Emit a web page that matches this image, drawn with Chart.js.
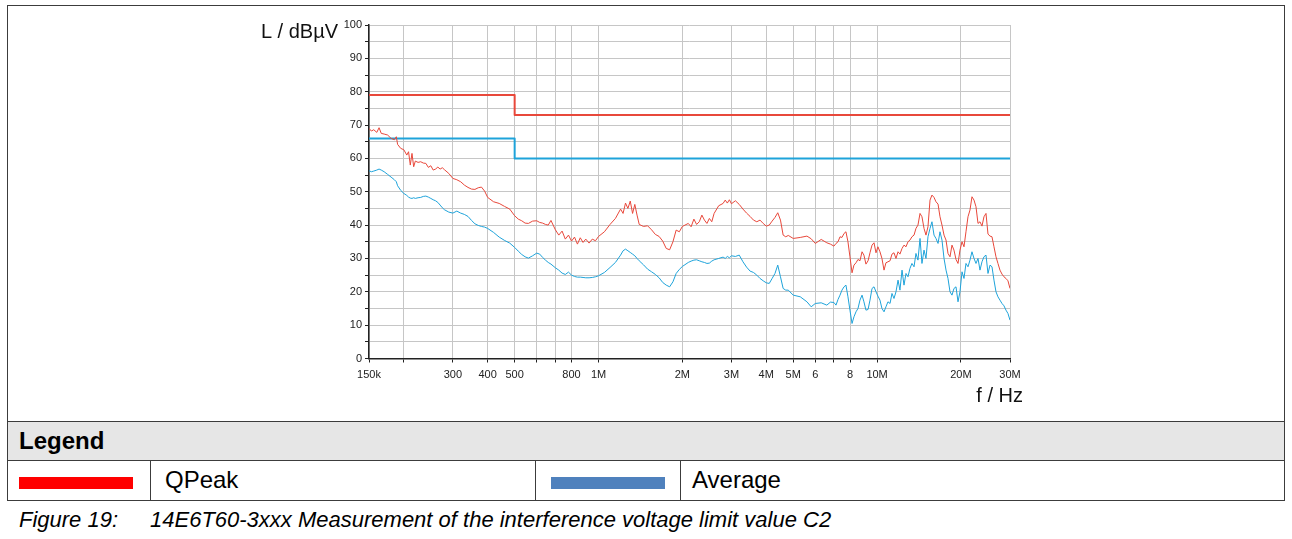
<!DOCTYPE html>
<html>
<head>
<meta charset="utf-8">
<title>Interference voltage C2</title>
<script src="https://cdn.jsdelivr.net/npm/chart.js@4.4.1/dist/chart.umd.min.js"></script>
<style>
  html, body { margin: 0; padding: 0; background: #fff; }
  body { width: 1292px; height: 539px; position: relative; overflow: hidden;
         font-family: "Liberation Sans", Arial, sans-serif; color: #000; }
  #emc { position: absolute; left: 0; top: 0; }
  .hl { position: absolute; height: 1px; background: #3c3c3c; }
  .vl { position: absolute; width: 1px; background: #3c3c3c; }
  .cell { position: absolute; white-space: nowrap; }
  .sw { position: absolute; height: 12px; }
</style>
</head>
<body>
<!-- table frame around chart and legend -->
<div class="hl" style="left:7px;top:5px;width:1278px"></div>
<div class="vl" style="left:7px;top:5px;height:495px"></div>
<div class="vl" style="left:1284px;top:5px;height:495px"></div>
<div style="position:absolute;left:8px;top:422px;width:1276px;height:38px;background:#e6e6e6"></div>
<div class="hl" style="left:7px;top:421px;width:1278px"></div>
<div class="hl" style="left:7px;top:460px;width:1278px"></div>
<div class="hl" style="left:7px;top:500px;width:1278px"></div>
<div class="vl" style="left:150px;top:460px;height:40px"></div>
<div class="vl" style="left:535px;top:460px;height:40px"></div>
<div class="vl" style="left:680px;top:460px;height:40px"></div>

<canvas id="emc" width="1292" height="418"></canvas>

<div class="cell" style="left:19px;top:421px;height:39px;line-height:39px;font-size:24px;font-weight:bold">Legend</div>
<div class="sw" style="left:19px;top:477px;width:114px;background:#ff0000"></div>
<div class="cell" style="left:165px;top:460px;height:40px;line-height:40px;font-size:24px">QPeak</div>
<div class="sw" style="left:551px;top:477px;width:114px;background:#4f81bd"></div>
<div class="cell" style="left:692px;top:460px;height:40px;line-height:40px;font-size:24px">Average</div>
<div class="cell" style="left:19px;top:500px;height:39px;line-height:39px;font-size:22px;font-style:italic">Figure 19:</div>
<div class="cell" style="left:150px;top:500px;height:39px;line-height:39px;font-size:22px;font-style:italic">14E6T60-3xxx Measurement of the interference voltage limit value C2</div>

<script>
// Sweep frequencies in MHz
const freqMHz = [
  0.150,0.153,0.156,0.160,0.163,0.166,0.170,0.175,0.180,0.185,
  0.188,0.190,0.195,0.200,0.205,0.208,0.211,0.214,0.217,0.220,
  0.225,0.230,0.235,0.240,0.245,0.250,0.255,0.260,0.265,0.270,
  0.275,0.280,0.290,0.300,0.310,0.320,0.330,0.340,0.350,0.360,
  0.370,0.380,0.390,0.400,0.420,0.440,0.460,0.480,0.500,
  0.515,0.530,0.545,0.560,0.580,0.600,0.615,0.630,0.645,0.660,
  0.675,0.700,0.720,0.740,0.760,0.780,0.800,0.820,0.840,0.860,
  0.880,0.900,0.925,0.950,0.975,1.00,1.05,1.10,1.15,1.20,
  1.225,1.25,1.275,1.30,1.325,1.35,1.375,1.40,1.45,1.50,
  1.55,1.60,1.65,1.70,1.75,1.80,1.85,1.90,1.95,2.00,
  2.10,2.15,2.20,2.25,2.30,2.35,2.40,2.45,2.50,2.55,
  2.60,2.70,2.80,2.85,2.90,2.95,3.00,3.10,3.20,3.30,
  3.40,3.50,
  3.60,3.70,3.80,3.90,4.00,4.10,4.20,4.30,4.40,4.50,
  4.60,4.70,4.80,5.00,5.30,5.60,5.80,6.00,6.30,6.60,6.80,
  7.00,7.12,7.24,7.36,7.48,7.61,7.73,7.86,7.99,8.13,
  8.26,8.40,8.54,8.68,8.83,8.97,9.12,9.28,9.43,9.59,
  9.75,9.91,10.07,10.24,10.41,10.59,10.76,10.94,11.13,11.31,
  11.50,11.69,11.89,12.08,12.29,12.49,12.70,12.91,13.12,13.34,
  13.57,13.79,14.02,14.26,14.49,14.74,14.98,15.23,15.49,15.74,
  16.01,16.27,16.55,16.82,17.10,17.39,17.68,17.97,18.27,18.57,
  18.88,19.20,19.52,19.84,20.18,20.51,20.85,21.20,21.55,21.91,
  22.28,22.65,23.03,23.41,23.80,24.19,24.60,25.01,25.43,25.85,
  26.28,26.72,27.16,27.61,28.08,28.54,29.02,29.50,30.00
];

// Quasi-peak detector reading, dBµV
const qpeak = [
  69.0,68.2,68.6,67.8,69.2,67.5,67.3,67.0,66.0,65.6,
  66.5,64.2,63.0,62.6,61.0,62.0,58.0,61.5,57.5,59.2,
  58.8,59.0,58.6,58.5,57.3,57.8,56.5,56.8,57.4,56.8,
  57.2,56.6,55.5,54.0,53.6,53.0,52.0,51.3,50.8,50.7,
  51.2,51.4,50.2,48.3,47.0,46.5,45.6,44.8,42.8,
  41.8,41.3,40.6,40.5,41.2,41.3,40.8,40.6,40.2,40.0,
  41.4,38.6,37.0,38.2,35.8,37.0,35.2,36.4,34.3,36.2,
  34.8,35.8,34.6,35.8,35.3,36.6,38.0,40.2,42.0,44.8,
  43.5,46.6,45.0,47.2,43.5,46.2,43.0,40.2,39.6,39.8,
  38.6,37.2,36.6,35.2,33.0,32.6,35.0,38.5,38.0,39.6,
  40.5,39.5,41.8,40.2,41.0,43.0,41.5,40.5,42.0,41.0,
  43.5,45.8,46.5,47.5,46.6,47.6,46.4,47.3,46.2,44.8,
  43.6,42.6,
  41.5,41.0,41.5,40.5,39.7,40.0,41.2,42.3,43.7,41.5,
  37.0,36.5,36.9,36.0,36.3,36.7,35.9,34.5,35.7,34.7,34.3,
  33.7,34.5,35.0,36.5,36.3,37.5,38.0,35.0,30.5,25.7,
  28.0,28.7,29.7,29.3,32.0,31.0,28.3,29.3,31.7,34.0,
  34.7,31.7,33.5,32.0,30.0,26.5,28.7,29.0,29.3,31.3,
  31.7,30.0,32.0,31.3,33.0,34.0,33.5,35.0,35.5,36.5,
  37.0,39.0,40.0,43.5,42.5,39.0,37.0,39.5,47.5,49.0,
  48.3,47.0,46.3,42.5,40.0,37.0,35.5,31.5,30.5,34.0,
  32.5,29.7,28.5,32.5,35.0,33.5,38.0,42.5,44.5,48.5,
  47.5,45.5,40.5,41.0,39.7,42.5,43.5,37.3,36.7,36.5,
  33.5,30.5,28.5,26.5,25.3,24.5,24.0,23.3,21.0
];

// Average detector reading, dBµV
const average = [
  56.3,56.0,56.2,56.5,56.8,56.5,56.0,55.2,54.4,53.6,
  53.0,51.8,50.4,49.5,48.9,48.4,48.1,48.0,48.2,48.0,
  48.2,48.3,48.6,48.7,48.4,48.0,47.6,47.3,46.8,46.0,
  45.2,44.6,43.9,43.6,44.2,43.6,43.2,42.6,41.4,40.4,
  39.9,39.6,39.4,39.0,37.8,36.4,35.4,34.6,33.3,
  32.2,31.2,30.5,30.1,30.8,31.6,31.3,30.3,29.5,28.8,
  28.3,27.2,26.5,25.6,25.2,25.9,25.0,24.6,24.4,24.4,
  24.3,24.2,24.2,24.3,24.5,24.8,25.8,27.3,28.8,31.0,
  32.3,32.8,32.3,31.8,31.3,30.8,30.0,29.3,28.1,26.8,
  26.0,25.2,24.2,22.8,22.0,21.5,23.0,25.5,26.7,27.6,
  28.8,29.2,29.5,29.6,29.3,29.0,28.8,28.5,28.6,29.2,
  29.6,30.0,30.4,30.0,30.6,30.2,30.8,30.6,31.0,29.0,
  27.4,26.2,
  25.8,25.0,24.0,23.3,22.7,22.5,24.0,25.5,28.0,24.5,
  21.0,20.5,20.5,19.0,18.5,17.0,15.5,16.5,16.7,16.0,16.9,
  16.8,16.0,17.7,19.0,20.5,21.5,22.0,18.5,14.5,10.5,
  12.5,14.0,15.0,17.5,19.0,17.0,14.5,14.7,17.5,21.0,
  21.5,20.0,18.7,17.5,15.0,14.0,15.5,17.0,16.5,19.5,
  18.0,20.0,23.5,20.5,26.5,22.0,25.5,24.5,27.0,28.5,
  27.5,31.5,29.5,36.0,28.5,32.5,30.0,36.5,39.0,41.0,
  37.0,36.0,34.5,38.0,35.5,30.0,26.5,24.0,20.0,19.0,
  21.0,21.5,17.0,20.0,26.0,24.0,28.5,27.5,29.5,32.0,
  30.0,28.5,30.0,26.5,29.0,30.5,31.0,25.5,28.0,27.5,
  23.5,20.0,18.5,17.5,16.5,15.8,14.5,13.5,11.5
];

// Class C2 limit lines (step at 500 kHz)
const limitFreqMHz = [0.15, 0.5, 0.5, 30];
const qpeakLimit   = [79, 79, 73, 73];
const averageLimit = [66, 66, 60, 60];

// Axis ticks and labels
const xTickValues = [0.15, 0.2, 0.3, 0.4, 0.5, 0.6, 0.7, 0.8, 1, 2, 3, 4, 5, 6, 7, 8, 10, 20, 30];
const xTickLabels = ['150k', '', '300', '400', '500', '', '', '800', '1M', '2M', '3M', '4M', '5M', '6', '', '8', '10M', '20M', '30M'];
const yTickValues = [0, 5, 10, 15, 20, 25, 30, 35, 40, 45, 50, 55, 60, 65, 70, 75, 80, 85, 90, 95, 100];
const yTickLabels = ['0', '', '10', '', '20', '', '30', '', '40', '', '50', '', '60', '', '70', '', '80', '', '90', '', '100'];
const yAxisTitle = 'L / dBµV';
const xAxisTitle = 'f / Hz';

const RED = '#e8483b';
const BLUE = '#1ea3da';
const FONT = '"Liberation Sans", Arial, sans-serif';

const pairs = (xs, ys) => xs.map((x, i) => ({ x: x, y: ys[i] }));

// axis captions sit outside the usual title slots
const axisCaptions = {
  id: 'axisCaptions',
  afterDraw(chart) {
    const { ctx, chartArea } = chart;
    ctx.save();
    ctx.font = '20px ' + FONT;
    ctx.fillStyle = '#111';
    ctx.textAlign = 'right';
    ctx.textBaseline = 'alphabetic';
    ctx.fillText(yAxisTitle, chartArea.left - 31, chartArea.top + 13);
    ctx.fillText(xAxisTitle, chartArea.right + 13, chartArea.bottom + 43);
    ctx.restore();
  }
};

Chart.defaults.font.family = FONT;

new Chart(document.getElementById('emc'), {
  type: 'line',
  data: {
    datasets: [
      { label: 'QPeak', data: pairs(freqMHz, qpeak), borderColor: RED, borderWidth: 1 },
      { label: 'Average', data: pairs(freqMHz, average), borderColor: BLUE, borderWidth: 1 },
      { label: 'QPeak limit', data: pairs(limitFreqMHz, qpeakLimit), borderColor: RED, borderWidth: 2 },
      { label: 'Average limit', data: pairs(limitFreqMHz, averageLimit), borderColor: BLUE, borderWidth: 2 }
    ]
  },
  options: {
    responsive: false,
    animation: false,
    layout: { padding: { left: 300, right: 282, top: 25, bottom: 19.5 } },
    elements: {
      point: { radius: 0, hoverRadius: 0 },
      line: { tension: 0, fill: false, borderJoinStyle: 'round', borderCapStyle: 'butt' }
    },
    plugins: { legend: { display: false }, tooltip: { enabled: false } },
    scales: {
      x: {
        type: 'logarithmic',
        min: 0.15,
        max: 30,
        afterBuildTicks: s => { s.ticks = xTickValues.map(v => ({ value: v })); },
        afterFit: s => { s.height = 40; },
        ticks: {
          autoSkip: false, maxRotation: 0, minRotation: 0, padding: 6,
          color: '#222', font: { size: 11 },
          callback: (v, i) => xTickLabels[i]
        },
        grid: { color: '#c6c6c6', lineWidth: 1, tickLength: 4, tickColor: '#222' },
        border: { color: '#222', width: 1.5 }
      },
      y: {
        type: 'linear',
        min: 0,
        max: 100,
        afterBuildTicks: s => { s.ticks = yTickValues.map(v => ({ value: v })); },
        afterFit: s => { s.width = 69; },
        ticks: {
          padding: 3, color: '#222', font: { size: 11 },
          callback: (v, i) => yTickLabels[i]
        },
        grid: { color: '#c6c6c6', lineWidth: 1, tickLength: 4, tickColor: '#222' },
        border: { color: '#222', width: 1.5 }
      }
    }
  },
  plugins: [axisCaptions]
});
</script>
</body>
</html>
